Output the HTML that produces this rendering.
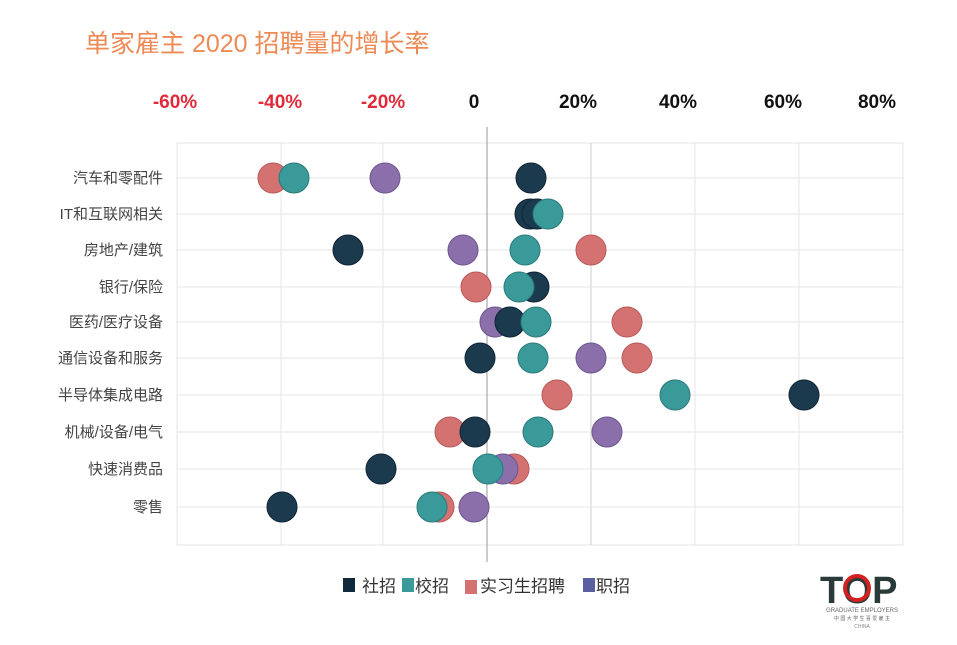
<!DOCTYPE html>
<html><head><meta charset="utf-8"><style>
body{margin:0;background:#fff;}
svg text{font-family:"Liberation Sans","Noto Sans CJK SC",sans-serif;}
</style></head><body>
<svg width="957" height="640" viewBox="0 0 957 640" xmlns="http://www.w3.org/2000/svg">
<rect width="957" height="640" fill="#fff"/>
<text x="85" y="52" font-size="25" fill="#ee8a55">单家雇主 2020 招聘量的增长率</text>
<g font-size="19" font-weight="bold" text-anchor="middle">
<text x="175" y="108" fill="#e02a3a">-60%</text>
<text x="280" y="108" fill="#e02a3a">-40%</text>
<text x="383" y="108" fill="#e02a3a">-20%</text>
<text x="474" y="108" fill="#111">0</text>
<text x="578" y="108" fill="#111">20%</text>
<text x="678" y="108" fill="#111">40%</text>
<text x="783" y="108" fill="#111">60%</text>
<text x="877" y="108" fill="#111">80%</text>
</g>
<g stroke="#e4e4e4" stroke-width="1">
<line x1="177" y1="143" x2="903" y2="143"/>
<line x1="177" y1="545" x2="903" y2="545"/>
<line x1="177" y1="143" x2="177" y2="545"/>
<line x1="281" y1="143" x2="281" y2="545"/>
<line x1="383" y1="143" x2="383" y2="545"/>
<line x1="591" y1="143" x2="591" y2="545" stroke="#ccc"/>
<line x1="695" y1="143" x2="695" y2="545"/>
<line x1="799" y1="143" x2="799" y2="545"/>
<line x1="903" y1="143" x2="903" y2="545"/>
<line x1="177" y1="178" x2="903" y2="178"/>
<line x1="177" y1="214" x2="903" y2="214"/>
<line x1="177" y1="250" x2="903" y2="250"/>
<line x1="177" y1="287" x2="903" y2="287"/>
<line x1="177" y1="322" x2="903" y2="322"/>
<line x1="177" y1="358" x2="903" y2="358"/>
<line x1="177" y1="395" x2="903" y2="395"/>
<line x1="177" y1="432" x2="903" y2="432"/>
<line x1="177" y1="469" x2="903" y2="469"/>
<line x1="177" y1="507" x2="903" y2="507"/>
</g>
<line x1="487" y1="127" x2="487" y2="562" stroke="#999" stroke-width="1"/>
<g font-size="15" fill="#444" text-anchor="end">
<text x="163" y="183">汽车和零配件</text>
<text x="163" y="219">IT和互联网相关</text>
<text x="163" y="255">房地产/建筑</text>
<text x="163" y="292">银行/保险</text>
<text x="163" y="327">医药/医疗设备</text>
<text x="163" y="363">通信设备和服务</text>
<text x="163" y="400">半导体集成电路</text>
<text x="163" y="437">机械/设备/电气</text>
<text x="163" y="474">快速消费品</text>
<text x="163" y="512">零售</text>
</g>
<g stroke-width="1">
<!-- row1 -->
<circle cx="273" cy="178" r="15" fill="#d47272" stroke="#b85a5a"/>
<circle cx="294" cy="178" r="15" fill="#3a9a9a" stroke="#2a7a7a"/>
<circle cx="385" cy="178" r="15" fill="#8a6faa" stroke="#6d5590"/>
<circle cx="531" cy="178" r="15" fill="#1c3a4e" stroke="#0f2434"/>
<!-- row2 -->
<circle cx="530" cy="214" r="15" fill="#1c3a4e" stroke="#0f2434"/>
<circle cx="537" cy="214" r="15" fill="#1c3a4e" stroke="#0f2434"/>
<circle cx="548" cy="214" r="15" fill="#3a9a9a" stroke="#2a7a7a"/>
<!-- row3 -->
<circle cx="348" cy="250" r="15" fill="#1c3a4e" stroke="#0f2434"/>
<circle cx="463" cy="250" r="15" fill="#8a6faa" stroke="#6d5590"/>
<circle cx="525" cy="250" r="15" fill="#3a9a9a" stroke="#2a7a7a"/>
<circle cx="591" cy="250" r="15" fill="#d47272" stroke="#b85a5a"/>
<!-- row4 -->
<circle cx="476" cy="287" r="15" fill="#d47272" stroke="#b85a5a"/>
<circle cx="534" cy="287" r="15" fill="#1c3a4e" stroke="#0f2434"/>
<circle cx="519" cy="287" r="15" fill="#3a9a9a" stroke="#2a7a7a"/>
<!-- row5 -->
<circle cx="495" cy="322" r="15" fill="#8a6faa" stroke="#6d5590"/>
<circle cx="510" cy="322" r="15" fill="#1c3a4e" stroke="#0f2434"/>
<circle cx="536" cy="322" r="15" fill="#3a9a9a" stroke="#2a7a7a"/>
<circle cx="627" cy="322" r="15" fill="#d47272" stroke="#b85a5a"/>
<!-- row6 -->
<circle cx="480" cy="358" r="15" fill="#1c3a4e" stroke="#0f2434"/>
<circle cx="533" cy="358" r="15" fill="#3a9a9a" stroke="#2a7a7a"/>
<circle cx="591" cy="358" r="15" fill="#8a6faa" stroke="#6d5590"/>
<circle cx="637" cy="358" r="15" fill="#d47272" stroke="#b85a5a"/>
<!-- row7 -->
<circle cx="557" cy="395" r="15" fill="#d47272" stroke="#b85a5a"/>
<circle cx="675" cy="395" r="15" fill="#3a9a9a" stroke="#2a7a7a"/>
<circle cx="804" cy="395" r="15" fill="#1c3a4e" stroke="#0f2434"/>
<!-- row8 -->
<circle cx="450" cy="432" r="15" fill="#d47272" stroke="#b85a5a"/>
<circle cx="475" cy="432" r="15" fill="#1c3a4e" stroke="#0f2434"/>
<circle cx="538" cy="432" r="15" fill="#3a9a9a" stroke="#2a7a7a"/>
<circle cx="607" cy="432" r="15" fill="#8a6faa" stroke="#6d5590"/>
<!-- row9 -->
<circle cx="381" cy="469" r="15" fill="#1c3a4e" stroke="#0f2434"/>
<circle cx="514" cy="469" r="15" fill="#d47272" stroke="#b85a5a"/>
<circle cx="503" cy="469" r="15" fill="#8a6faa" stroke="#6d5590"/>
<circle cx="488" cy="469" r="15" fill="#3a9a9a" stroke="#2a7a7a"/>
<!-- row10 -->
<circle cx="282" cy="507" r="15" fill="#1c3a4e" stroke="#0f2434"/>
<circle cx="439" cy="507" r="15" fill="#d47272" stroke="#b85a5a"/>
<circle cx="432" cy="507" r="15" fill="#3a9a9a" stroke="#2a7a7a"/>
<circle cx="474" cy="507" r="15" fill="#8a6faa" stroke="#6d5590"/>
</g>
<g font-size="17" fill="#333">
<rect x="343" y="578" width="12" height="14" fill="#0f2a3c"/><text x="362" y="592">社招</text>
<rect x="402" y="578" width="12" height="14" fill="#3a9a9a"/><text x="415" y="592">校招</text>
<rect x="465" y="580" width="12" height="14" fill="#d47272"/><text x="480" y="592">实习生招聘</text>
<rect x="583" y="578" width="12" height="14" fill="#5a5fa0"/><text x="596" y="592">职招</text>
</g>
<g>
<text x="820" y="603" font-size="38" font-weight="bold" fill="#2a3a3a" font-family="Liberation Sans Narrow,Liberation Sans,sans-serif">TOP</text>
<circle cx="857" cy="588" r="12" fill="none" stroke="#d42020" stroke-width="4"/>
<text x="862" y="612" font-size="6" fill="#666" text-anchor="middle">GRADUATE EMPLOYERS</text>
<text x="862" y="620" font-size="5" fill="#666" text-anchor="middle">中 国 大 学 生 喜 爱 雇 主</text>
<text x="862" y="628" font-size="5" fill="#888" text-anchor="middle">CHINA</text>
</g>
</svg>
</body></html>
